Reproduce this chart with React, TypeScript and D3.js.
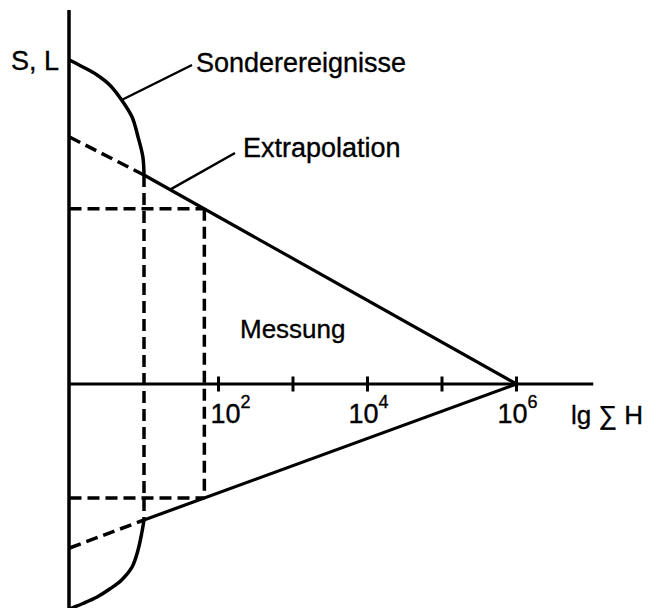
import React from "react";
import * as d3 from "d3";

// Measured range: lg ΣH from 1 to 6 (upper S, lower L)
const measuredUpper: [number, number][] = [
  [1, 4.18],
  [6, 0],
];
const measuredLower: [number, number][] = [
  [1, -2.72],
  [6, 0],
];

// Extrapolation towards lg ΣH = 0
const extrapUpper: [number, number][] = [
  [0, 4.94],
  [1, 4.18],
];
const extrapLower: [number, number][] = [
  [0, -3.28],
  [1, -2.72],
];

// Special events (Sonderereignisse) bending away near the origin
const specialUpper: [number, number][] = [
  [0, 6.48],
  [0.18, 6.34],
  [0.37, 6.18],
  [0.54, 5.98],
  [0.7, 5.68],
  [0.84, 5.34],
  [0.92, 4.94],
  [0.985, 4.54],
  [1, 4.18],
];
const specialLower: [number, number][] = [
  [1, -2.72],
  [0.97, -2.98],
  [0.92, -3.32],
  [0.84, -3.66],
  [0.7, -3.92],
  [0.54, -4.1],
  [0.37, -4.26],
  [0.18, -4.39],
  [0.05, -4.47],
  [0, -4.5],
];

// Reading lines: lg ΣH of the kink and of the reading point
const readingLgH = [1, 1.81];

const tickValues = [2, 3, 4, 5, 6];
const labelledTicks = [
  { lg: 2, base: "10", exp: "2" },
  { lg: 4, base: "10", exp: "4" },
  { lg: 6, base: "10", exp: "6" },
];

const W = 651;
const H = 608;
const FONT = "'Liberation Sans', Arial, Helvetica, sans-serif";

export default function App() {
  const x = d3.scaleLinear().domain([0, 7]).range([69.5, 69.5 + 7 * 74.5]);
  const y = d3.scaleLinear().domain([-4.48, 7.48]).range([608, 10]);

  const line = d3
    .line<[number, number]>()
    .x((d) => x(d[0]))
    .y((d) => y(d[1]));
  const curve = d3
    .line<[number, number]>()
    .x((d) => x(d[0]))
    .y((d) => y(d[1]))
    .curve(d3.curveCatmullRom.alpha(0.5));

  const interp = (pts: [number, number][], lg: number) => {
    const [a, b] = pts;
    const t = (lg - a[0]) / (b[0] - a[0]);
    return a[1] + t * (b[1] - a[1]);
  };

  const dash = "12 6";
  const stroke = "#000";

  const leaderSpecial = specialUpper[4];
  const leaderExtrap = 1.35;

  return (
    <svg
      width={W}
      height={H}
      style={{ position: "absolute", left: 0, top: 0, background: "#fff" }}
      fontFamily={FONT}
    >
      {/* axes */}
      <line x1={x(0) - 0.5} x2={x(0) - 0.5} y1={y(7.48)} y2={y(-4.48)} stroke={stroke} strokeWidth={3.5} />
      <line x1={x(0)} x2={x(7.03)} y1={y(0)} y2={y(0)} stroke={stroke} strokeWidth={3} />
      {tickValues.map((t) => (
        <line key={t} x1={x(t)} x2={x(t)} y1={y(0) - 7.5} y2={y(0) + 7.5} stroke={stroke} strokeWidth={3} />
      ))}

      {/* reading lines */}
      {readingLgH.map((lg, i) => {
        const up = interp(measuredUpper, lg);
        const lo = interp(measuredLower, lg);
        return (
          <g key={i} stroke={stroke} strokeWidth={3.5} strokeDasharray={dash} fill="none">
            <line x1={x(lg)} x2={x(lg)} y1={y(up)} y2={y(lo)} />
            {i === 1 && (
              <>
                <line x1={x(0)} x2={x(lg)} y1={y(up)} y2={y(up)} />
                <line x1={x(0)} x2={x(lg)} y1={y(lo)} y2={y(lo)} />
              </>
            )}
          </g>
        );
      })}

      {/* extrapolation */}
      <path d={line(extrapUpper) || ""} stroke={stroke} strokeWidth={3.5} strokeDasharray={dash} fill="none" />
      <path d={line(extrapLower) || ""} stroke={stroke} strokeWidth={3.5} strokeDasharray={dash} fill="none" />

      {/* measured lines */}
      <path d={line(measuredUpper) || ""} stroke={stroke} strokeWidth={3.2} fill="none" />
      <path d={line(measuredLower) || ""} stroke={stroke} strokeWidth={3.2} fill="none" />

      {/* special events */}
      <path d={curve(specialUpper) || ""} stroke={stroke} strokeWidth={3.5} fill="none" />
      <path d={curve(specialLower) || ""} stroke={stroke} strokeWidth={3.5} fill="none" />

      {/* leaders */}
      <line x1={x(leaderSpecial[0])} y1={y(leaderSpecial[1])} x2={192} y2={65} stroke={stroke} strokeWidth={2.5} />
      <line
        x1={x(leaderExtrap)}
        y1={y(interp(measuredUpper, leaderExtrap))}
        x2={235}
        y2={153}
        stroke={stroke}
        strokeWidth={2.5}
      />

      {/* texts */}
      <g fill="#000" stroke="#000" strokeWidth={0.35} fontSize={27}>
        <text x={11} y={70}>S, L</text>
        <text x={196} y={72}>Sonderereignisse</text>
        <text x={243} y={157}>Extrapolation</text>
        <text x={240} y={338} fontSize={26}>Messung</text>
        <text x={571} y={424} fontSize={26}>lg ∑ H</text>
        {labelledTicks.map((t) => (
          <text key={t.lg} x={x(t.lg) + (t.lg === 2 ? 12 : 1)} y={423} textAnchor="middle" fontSize={27}>
            {t.base}
            <tspan fontSize={18} dy={-15}>
              {t.exp}
            </tspan>
          </text>
        ))}
      </g>
    </svg>
  );
}
